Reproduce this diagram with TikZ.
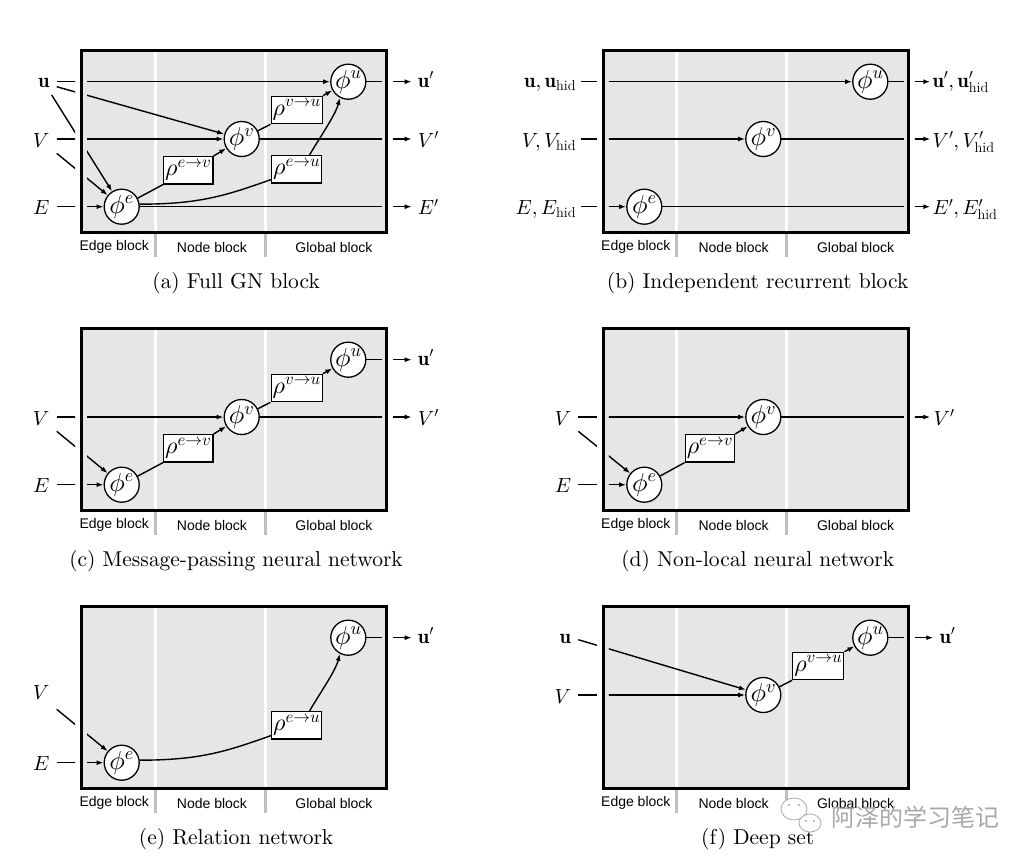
\documentclass[tikz,border=0pt]{standalone}
\usepackage{fontspec}
\DeclareFontShape{OML}{cmm}{m}{it}{<->cmmi10}{}
\DeclareFontShape{OMS}{cmsy}{m}{n}{<->cmsy10}{}
\DeclareFontShape{OT1}{cmr}{m}{n}{<->cmr10}{}
\newcommand\capfont{\fontencoding{OT1}\fontfamily{cmr}\fontseries{m}\fontshape{n}\fontsize{21.5}{24}\selectfont}
\newfontfamily\helv{Liberation Sans}
\newfontfamily\cjk{Noto Sans CJK SC}
\usetikzlibrary{arrows.meta,calc}
\definecolor{boxgray}{HTML}{E6E6E6}
\definecolor{divgray}{HTML}{BFBFBF}
\definecolor{wmgray}{HTML}{A8A8A8}
\tikzset{
  conn/.style={line width=1.4pt},
  arr/.style={conn,-{Latex[length=7pt,width=5pt]}},
  phinode/.style={circle,draw,line width=1.3pt,fill=white,minimum size=35pt,inner sep=0pt,font=\fontsize{26}{28}\selectfont},
  rhonode/.style={rectangle,draw,line width=1.3pt,fill=white,inner sep=1.5pt,minimum width=48.7pt,minimum height=27.3pt,font=\fontsize{24}{26}\selectfont},
  lab/.style={font=\fontsize{20.5}{22}\selectfont,inner sep=0pt},
  blk/.style={font=\helv\fontsize{14}{16}\selectfont,inner sep=0pt},
  captext/.style={font=\capfont,inner sep=0pt},
}
\newcommand\gnframe[2]{%
  \fill[boxgray] (0,0) rectangle (305,182);
  \draw[white,line width=3pt] (73.3,0) -- (73.3,182) (183.3,0) -- (183.3,182);
  \draw[divgray,line width=3pt] (73.3,183.5) -- (73.3,206) (183.3,183.5) -- (183.3,206);
  \draw[line width=3pt] (0,0) rectangle (305,182);
  \node[blk] (#1-eb) at (32.5,196.5) {Edge block};
  \node[blk] (#1-nb) at (130.3,196.5) {Node block};
  \node[blk] (#1-gb) at (252.3,196.5) {Global block};
  \node[captext] (#1-cap) at (154.5,232.5) {#2};
}
\newcommand\insidepart[1]{\begin{scope}\clip (5.5,3) rectangle (300.5,179); #1\end{scope}}
\newcommand\leftpart[1]{\begin{scope}\clip (-120,-30) rectangle (-6.5,240); #1\end{scope}}
\newcommand\rightpart[1]{\begin{scope}\clip (311.5,-30) rectangle (430,240); #1\end{scope}}
\newcommand\inarrow[2]{\leftpart{\draw[conn] (#1) -- (#2);}\insidepart{\draw[arr] (#1) -- (#2);}}
\newcommand\outarrow[2]{\insidepart{\draw[conn] (#1) -- (#2);}\rightpart{\draw[arr] (#1) -- (#2);}}
\begin{document}
\begin{tikzpicture}[x=1pt,y=-1pt]
\useasboundingbox[fill=white] (0,0) rectangle (1036,864);

% ---------------- (a) ----------------
\begin{scope}[shift={(81.7,50.7)}]
  \gnframe{a}{(a) Full GN block}
  \node[phinode] (a-pe) at (40,156) {$\phi^e$};
  \node[phinode] (a-pv) at (160,88.3) {$\phi^v$};
  \node[phinode] (a-pu) at (266.6,31) {$\phi^u$};
  \node[rhonode] (a-rev) at (106.6,119.6) {$\rho^{e\rightarrow v}$};
  \node[rhonode] (a-rvu) at (215,59.3) {$\rho^{v\rightarrow u}$};
  \node[rhonode] (a-reu) at (215,118.5) {$\rho^{e\rightarrow u}$};
  \coordinate (a-iu) at (-25,31);
  \coordinate (a-iu2) at (-25,36);
  \coordinate (a-iu3) at (-30,44.3);
  \coordinate (a-iv) at (-25,88.3);
  \coordinate (a-iv2) at (-25,102.6);
  \coordinate (a-ie) at (-25,156);
  \coordinate (a-ou) at (330,31);
  \coordinate (a-ov) at (330,88.3);
  \coordinate (a-oe) at (330,156);
  \inarrow{a-iu}{a-pu}
  \inarrow{a-iu2}{a-pv}
  \inarrow{a-iu3}{a-pe}
  \inarrow{a-iv}{a-pv}
  \inarrow{a-iv2}{a-pe}
  \inarrow{a-ie}{a-pe}
  \outarrow{a-pu}{a-ou}
  \outarrow{a-pv}{a-ov}
  \outarrow{a-pe}{a-oe}
  \draw[conn] (a-pe) -- (a-rev.south west);
  \draw[arr] (a-rev.north east) -- (a-pv);
  \draw[conn] (a-pv) -- (a-rvu.south west);
  \draw[arr] (a-rvu.north east) -- (a-pu);
  \draw[conn] (a-pe.8) .. controls +(60,0) and +(-45,16) .. (a-reu.202);
  \draw[arr] (a-reu.48) .. controls +(8,-14) and +(-4,17) .. (a-pu.-118);
  \node[lab,anchor=base east] (a-lu) at ($(a-iu)+(-7,5.5)$) {$\mathbf{u}$};
  \node[lab,anchor=base east] (a-lv) at ($(a-iv)+(-7,8)$) {$V$};
  \node[lab,anchor=base east] (a-le) at ($(a-ie)+(-7,8)$) {$E$};
  \node[lab,anchor=base west] (a-lou) at ($(a-ou)+(6,5.5)$) {$\mathbf{u}'$};
  \node[lab,anchor=base west] (a-lov) at ($(a-ov)+(6,8)$) {$V'$};
  \node[lab,anchor=base west] (a-loe) at ($(a-oe)+(6,8)$) {$E'$};
\end{scope}

% ---------------- (b) ----------------
\begin{scope}[shift={(603.3,50.7)}]
  \gnframe{b}{(b) Independent recurrent block}
  \node[phinode] (b-pe) at (41,156) {$\phi^e$};
  \node[phinode] (b-pv) at (160,88.3) {$\phi^v$};
  \node[phinode] (b-pu) at (267,31) {$\phi^u$};
  \coordinate (b-iu) at (-22,31);
  \coordinate (b-iv) at (-22,88.3);
  \coordinate (b-ie) at (-22,156);
  \coordinate (b-ou) at (327,31);
  \coordinate (b-ov) at (327,88.3);
  \coordinate (b-oe) at (327,156);
  \inarrow{b-iu}{b-pu}
  \inarrow{b-iv}{b-pv}
  \inarrow{b-ie}{b-pe}
  \outarrow{b-pu}{b-ou}
  \outarrow{b-pv}{b-ov}
  \outarrow{b-pe}{b-oe}
  \node[lab,anchor=base east] (b-lu) at ($(b-iu)+(-5,5.5)$) {$\mathbf{u}, \mathbf{u}_{\mathrm{hid}}$};
  \node[lab,anchor=base east] (b-lv) at ($(b-iv)+(-5,8)$) {$V, V_{\mathrm{hid}}$};
  \node[lab,anchor=base east] (b-le) at ($(b-ie)+(-5,8)$) {$E, E_{\mathrm{hid}}$};
  \node[lab,anchor=base west] (b-lou) at ($(b-ou)+(2,5.5)$) {$\mathbf{u}', \mathbf{u}'_{\mathrm{hid}}$};
  \node[lab,anchor=base west] (b-lov) at ($(b-ov)+(2,8)$) {$V', V'_{\mathrm{hid}}$};
  \node[lab,anchor=base west] (b-loe) at ($(b-oe)+(2,8)$) {$E', E'_{\mathrm{hid}}$};
\end{scope}

% ---------------- (c) ----------------
\begin{scope}[shift={(81.7,328.7)}]
  \gnframe{c}{(c) Message-passing neural network}
  \node[phinode] (c-pe) at (40,156) {$\phi^e$};
  \node[phinode] (c-pv) at (160,88.3) {$\phi^v$};
  \node[phinode] (c-pu) at (266.6,31) {$\phi^u$};
  \node[rhonode] (c-rev) at (106.6,119.6) {$\rho^{e\rightarrow v}$};
  \node[rhonode] (c-rvu) at (215,59.3) {$\rho^{v\rightarrow u}$};
  \coordinate (c-iv) at (-25,88.3);
  \coordinate (c-iv2) at (-25,102.6);
  \coordinate (c-ie) at (-25,156);
  \coordinate (c-ou) at (330,31);
  \coordinate (c-ov) at (330,88.3);
  \inarrow{c-iv}{c-pv}
  \inarrow{c-iv2}{c-pe}
  \inarrow{c-ie}{c-pe}
  \outarrow{c-pu}{c-ou}
  \outarrow{c-pv}{c-ov}
  \draw[conn] (c-pe) -- (c-rev.south west);
  \draw[arr] (c-rev.north east) -- (c-pv);
  \draw[conn] (c-pv) -- (c-rvu.south west);
  \draw[arr] (c-rvu.north east) -- (c-pu);
  \node[lab,anchor=base east] (c-lv) at ($(c-iv)+(-7,8)$) {$V$};
  \node[lab,anchor=base east] (c-le) at ($(c-ie)+(-7,8)$) {$E$};
  \node[lab,anchor=base west] (c-lou) at ($(c-ou)+(6,5.5)$) {$\mathbf{u}'$};
  \node[lab,anchor=base west] (c-lov) at ($(c-ov)+(6,8)$) {$V'$};
\end{scope}

% ---------------- (d) ----------------
\begin{scope}[shift={(603.3,328.7)}]
  \gnframe{d}{(d) Non-local neural network}
  \node[phinode] (d-pe) at (41,156) {$\phi^e$};
  \node[phinode] (d-pv) at (160,88.3) {$\phi^v$};
  \node[rhonode] (d-rev) at (106.6,119.6) {$\rho^{e\rightarrow v}$};
  \coordinate (d-iv) at (-25,88.3);
  \coordinate (d-iv2) at (-25,102.6);
  \coordinate (d-ie) at (-25,156);
  \coordinate (d-ov) at (327,88.3);
  \inarrow{d-iv}{d-pv}
  \inarrow{d-iv2}{d-pe}
  \inarrow{d-ie}{d-pe}
  \outarrow{d-pv}{d-ov}
  \draw[conn] (d-pe) -- (d-rev.south west);
  \draw[arr] (d-rev.north east) -- (d-pv);
  \node[lab,anchor=base east] (d-lv) at ($(d-iv)+(-7,8)$) {$V$};
  \node[lab,anchor=base east] (d-le) at ($(d-ie)+(-7,8)$) {$E$};
  \node[lab,anchor=base west] (d-lov) at ($(d-ov)+(3,8)$) {$V'$};
\end{scope}

% ---------------- (e) ----------------
\begin{scope}[shift={(81.7,606.7)}]
  \gnframe{e}{(e) Relation network}
  \node[phinode] (e-pe) at (40,156) {$\phi^e$};
  \node[phinode] (e-pu) at (266.6,31) {$\phi^u$};
  \node[rhonode] (e-reu) at (215,118.5) {$\rho^{e\rightarrow u}$};
  \coordinate (e-iv) at (-25,84.3);
  \coordinate (e-iv2) at (-25,102.6);
  \coordinate (e-ie) at (-25,156);
  \coordinate (e-ou) at (330,31);
  \inarrow{e-iv2}{e-pe}
  \inarrow{e-ie}{e-pe}
  \outarrow{e-pu}{e-ou}
  \draw[conn] (e-pe.8) .. controls +(60,0) and +(-45,16) .. (e-reu.202);
  \draw[arr] (e-reu.48) .. controls +(8,-14) and +(-4,17) .. (e-pu.-118);
  \node[lab,anchor=base east] (e-lv) at ($(e-iv)+(-7,8)$) {$V$};
  \node[lab,anchor=base east] (e-le) at ($(e-ie)+(-7,8)$) {$E$};
  \node[lab,anchor=base west] (e-lou) at ($(e-ou)+(6,5.5)$) {$\mathbf{u}'$};
\end{scope}

% ---------------- (f) ----------------
\begin{scope}[shift={(603.3,606.7)}]
  \gnframe{f}{(f) Deep set}
  \node[phinode] (f-pv) at (160,88.3) {$\phi^v$};
  \node[phinode] (f-pu) at (267,31) {$\phi^u$};
  \node[rhonode] (f-rvu) at (215,59.3) {$\rho^{v\rightarrow u}$};
  \coordinate (f-iu) at (-25,33);
  \coordinate (f-iv) at (-25,88.3);
  \coordinate (f-ou) at (330,31);
  \inarrow{f-iu}{f-pv}
  \inarrow{f-iv}{f-pv}
  \outarrow{f-pu}{f-ou}
  \draw[conn] (f-pv) -- (f-rvu.south west);
  \draw[arr] (f-rvu.north east) -- (f-pu);
  \node[lab,anchor=base east] (f-lu) at ($(f-iu)+(-7,3.5)$) {$\mathbf{u}$};
  \node[lab,anchor=base east] (f-lv) at ($(f-iv)+(-7,8)$) {$V$};
  \node[lab,anchor=base west] (f-lou) at ($(f-ou)+(6,5.5)$) {$\mathbf{u}'$};
\end{scope}

% ---------------- watermark ----------------
\draw[wmgray,line width=0.8pt,fill=white] (794,809) ellipse (13 and 11);
\draw[wmgray,line width=0.8pt,fill=white] (810,823) ellipse (11 and 9);
\fill[wmgray] (789,805) circle (1.2) (799,805) circle (1.2) (806,821) circle (1.1) (814,821) circle (1.1);
\node[font=\cjk\fontsize{24}{26}\selectfont,text=wmgray,inner sep=0pt] (wm) at (915,817) {阿泽的学习笔记};
\end{tikzpicture}
\end{document}
